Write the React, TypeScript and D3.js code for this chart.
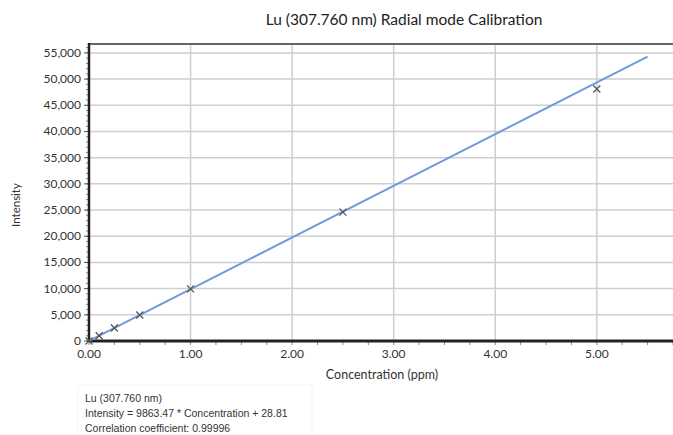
import React, { useEffect, useRef } from "react";
import * as d3 from "d3";

// calibration standards
const concentrations = [0, 0.1, 0.25, 0.5, 1.0, 2.5, 5.0];
const intensities = [0, 1010, 2480, 4960, 9950, 24600, 48100];
const slope = 9863.47;
const intercept = 28.81;
const fitRange = [0, 5.5];
const yTicks = [0, 5000, 10000, 15000, 20000, 25000, 30000, 35000, 40000, 45000, 50000, 55000];
const xTicks = [0, 1, 2, 3, 4, 5];
const title = "Lu (307.760 nm) Radial mode Calibration";
const footerLines = [
  "Lu (307.760 nm)",
  "Intensity = 9863.47 * Concentration + 28.81",
  "Correlation coefficient: 0.99996",
];

export default function App() {
  const ref = useRef<SVGSVGElement>(null);

  useEffect(() => {
    const svg = d3.select(ref.current);
    svg.selectAll("*").remove();

    const left = 89, right = 673, top = 44, bottom = 341;
    const x = d3.scaleLinear().domain([0, 5.75]).range([left, right]);
    const y = d3.scaleLinear().domain([0, 56700]).range([bottom, top]);

    // title
    svg.append("text")
      .attr("x", 404).attr("y", 25)
      .attr("text-anchor", "middle")
      .style("font-family", "Lato, 'Open Sans', sans-serif")
      .style("font-size", "15.5px")
      .style("fill", "#222")
      .text(title);

    const g = svg.append("g");

    // grid
    g.selectAll(".hgrid").data(yTicks.slice(1)).join("line")
      .attr("x1", left).attr("x2", right)
      .attr("y1", d => y(d)).attr("y2", d => y(d))
      .attr("stroke", "#cfcfcf").attr("stroke-width", 1.5);
    g.selectAll(".vgrid").data(xTicks.slice(1)).join("line")
      .attr("x1", d => x(d)).attr("x2", d => x(d))
      .attr("y1", top).attr("y2", bottom)
      .attr("stroke", "#cfcfcf").attr("stroke-width", 1.5);

    // top frame
    g.append("line").attr("x1", left).attr("x2", right).attr("y1", top).attr("y2", top)
      .attr("stroke", "#666").attr("stroke-width", 2);

    // minor ticks
    g.selectAll(".ymin").data(d3.range(0, 56001, 1000)).join("line")
      .attr("x1", left - 3).attr("x2", left)
      .attr("y1", d => y(d)).attr("y2", d => y(d))
      .attr("stroke", "#888").attr("stroke-width", 1);
    g.selectAll(".xmin").data(d3.range(0, 5.76, 0.25)).join("line")
      .attr("x1", d => x(d)).attr("x2", d => x(d))
      .attr("y1", bottom).attr("y2", bottom + 4)
      .attr("stroke", "#888").attr("stroke-width", 1);

    // y axis labels
    g.selectAll(".ylab").data(yTicks).join("text")
      .attr("x", left - 8).attr("y", d => y(d) + 4)
      .attr("text-anchor", "end")
      .style("font-family", "Lato, sans-serif")
      .style("font-size", "12px")
      .style("fill", "#333")
      .text(d => d3.format(",")(d));
    g.selectAll(".ymaj").data(yTicks).join("line")
      .attr("x1", left - 5).attr("x2", left)
      .attr("y1", d => y(d)).attr("y2", d => y(d))
      .attr("stroke", "#555");

    // x axis labels
    g.selectAll(".xlab").data(xTicks).join("text")
      .attr("x", d => x(d)).attr("y", bottom + 17)
      .attr("text-anchor", "middle")
      .style("font-family", "Lato, sans-serif")
      .style("font-size", "12px")
      .style("fill", "#333")
      .text(d => d3.format(".2f")(d));

    // axis lines
    g.append("line").attr("x1", left).attr("x2", left).attr("y1", top - 1).attr("y2", bottom + 1)
      .attr("stroke", "#222").attr("stroke-width", 2.5);
    g.append("line").attr("x1", left).attr("x2", right).attr("y1", bottom).attr("y2", bottom)
      .attr("stroke", "#222").attr("stroke-width", 3);

    // axis titles
    svg.append("text")
      .attr("x", 382).attr("y", 379)
      .attr("text-anchor", "middle")
      .style("font-family", "Lato, sans-serif")
      .style("font-size", "12.5px")
      .style("fill", "#333")
      .text("Concentration (ppm)");
    svg.append("text")
      .attr("transform", "translate(20,205) rotate(-90)")
      .attr("text-anchor", "middle")
      .style("font-family", "Lato, sans-serif")
      .style("font-size", "11.5px")
      .style("fill", "#333")
      .text("Intensity");

    // fit line
    const line = d3.line<number>().x(d => x(d)).y(d => y(slope * d + intercept));
    g.append("path").datum(fitRange).attr("d", line)
      .attr("fill", "none").attr("stroke", "#6f9bdc").attr("stroke-width", 2);

    // standards markers
    const pts = concentrations.map((c, i) => [c, intensities[i]]);
    const s = 3.5;
    g.selectAll(".pt").data(pts).join("path")
      .attr("d", d => {
        const px = x(d[0]), py = y(d[1]);
        return `M${px - s},${py - s}L${px + s},${py + s}M${px - s},${py + s}L${px + s},${py - s}`;
      })
      .attr("stroke", "#555").attr("stroke-width", 1.3).attr("fill", "none");

    // footer box
    svg.append("rect").attr("x", 78).attr("y", 385).attr("width", 234).attr("height", 50)
      .attr("fill", "none").attr("stroke", "#f5f5f5");
    svg.selectAll(".foot").data(footerLines).join("text")
      .attr("x", 85).attr("y", (d, i) => 402 + i * 15)
      .style("font-family", "'Liberation Sans', Arial, sans-serif")
      .style("font-size", "10.5px")
      .style("fill", "#333")
      .text(d => d);
  }, []);

  return (
    <div style={{ position: "absolute", left: 0, top: 0, background: "#fff" }}>
      <svg ref={ref} width={673} height={435} style={{ display: "block" }} />
    </div>
  );
}
